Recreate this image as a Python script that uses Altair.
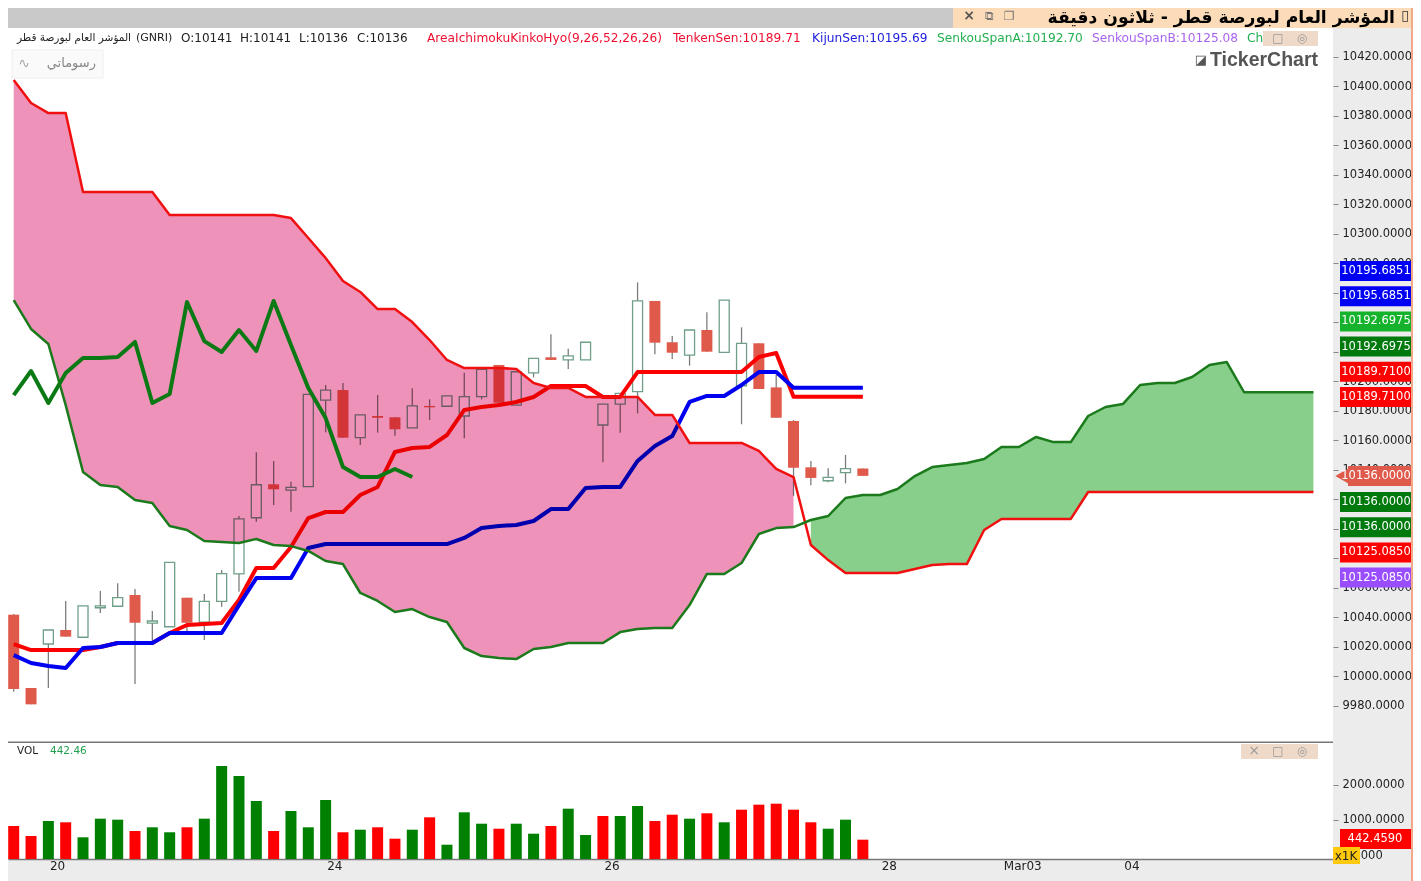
import altair as alt
import pandas as pd

# ---------- price data ----------
opens = [10041.9,9992.2,10022.0,10031.5,10026.6,10046.6,10047.6,10055.2,10036.2,10033.7,
         10053.4,10036.9,10050.9,10069.5,10107.6,10130.3,10126.4,10128.7,10187.4,10194.2,
         10161.9,10176.6,10175.7,10168.6,10183.4,10183.2,10176.6,10189.7,10211.2,10184.0,
         10205.9,10216.4,10214.6,10214.6,10170.5,10184.7,10193.1,10254.6,10226.6,10217.9,
         10234.9,10219.8,10197.1,10225.9,10196.0,10173.2,10141.8,10132.7,10138.2,10141.0]
closes = [9991.5,9981.1,10031.5,10027.0,10047.8,10047.8,10053.4,10036.4,10037.6,10077.4,
          10036.4,10050.9,10069.7,10106.9,10130.0,10126.9,10128.2,10191.3,10194.2,10161.9,
          10177.3,10175.4,10167.6,10183.4,10182.5,10190.2,10189.7,10208.2,10185.6,10206.6,
          10215.7,10214.6,10217.3,10226.6,10184.7,10192.0,10254.6,10226.3,10219.5,10234.9,
          10220.2,10255.2,10225.9,10194.9,10175.4,10141.5,10134.6,10135.0,10140.9,10136.0]
highs = [10042.3,9992.2,10031.5,10051.2,10047.8,10057.9,10063.2,10059.3,10044.4,10077.4,
         10053.4,10055.9,10072.2,10108.8,10152.0,10146.1,10132.0,10191.3,10197.6,10198.9,
         10177.3,10190.8,10175.7,10195.4,10187.9,10190.2,10206.0,10208.2,10211.2,10206.6,
         10215.7,10232.0,10222.2,10226.6,10184.7,10192.0,10267.2,10254.6,10230.8,10234.9,
         10246.9,10255.2,10236.7,10225.9,10204.4,10173.9,10146.1,10141.1,10150.2,10141.0]
lows = [9989.7,9981.1,9992.2,10027.0,10026.6,10043.0,10047.6,9994.9,10023.6,10033.7,
        10030.3,10024.7,10047.3,10057.5,10104.9,10116.2,10111.7,10128.7,10165.5,10161.9,
        10156.9,10165.3,10163.2,10168.6,10173.9,10183.2,10161.5,10187.9,10185.6,10184.0,
        10202.8,10214.6,10208.5,10214.6,10145.2,10165.3,10178.4,10218.4,10215.2,10210.7,
        10220.2,10219.8,10171.0,10194.9,10175.4,10122.5,10129.6,10131.6,10130.9,10136.0]
volumes = [830,547,972,935,510,1037,1009,688,793,652,793,1037,2530,2246,1538,688,1255,793,1567,652,
           725,793,470,725,1076,300,1218,895,753,895,612,830,1320,575,1113,1113,1397,972,1150,1037,
           1190,935,1292,1434,1462,1292,935,753,1009,442.46]
vol_up = [0,0,1,0,1,1,1,0,1,1,0,1,1,1,1,0,1,1,1,0,1,0,0,1,0,1,1,1,0,1,1,0,1,1,0,1,1,0,0,1,
          0,1,0,0,0,0,0,1,1,0]

tenkan = [10022.0,10017.9,10017.9,10017.9,10017.9,10020.0,10022.7,10022.7,10022.7,10029.5,
          10034.9,10035.6,10036.2,10051.8,10073.5,10073.5,10087.8,10107.4,10111.5,10111.5,
          10123.0,10128.5,10152.2,10154.9,10155.6,10163.7,10180.7,10182.7,10184.0,10186.1,
          10189.5,10196.9,10196.9,10196.9,10189.5,10189.5,10206.4,10206.4,10206.4,10206.4,
          10206.4,10206.4,10206.4,10216.6,10219.3,10189.71,10189.71,10189.71,10189.71,10189.71]
kijun = [10014.5,10009.1,10007.1,10005.7,10019.3,10020.0,10022.7,10022.7,10022.7,10029.5,
         10029.5,10029.5,10029.5,10048.4,10066.7,10066.7,10066.7,10087.1,10089.8,10089.8,
         10089.8,10089.8,10089.8,10089.8,10089.8,10089.8,10093.9,10100.6,10102.0,10102.7,
         10105.4,10113.5,10113.5,10127.8,10128.5,10128.5,10146.1,10156.2,10163.0,10186.1,
         10190.2,10190.2,10197.6,10206.4,10206.4,10195.69,10195.69,10195.69,10195.69,10195.69]
chikou = [10190.8,10207.1,10185.4,10205.7,10215.9,10215.9,10216.6,10226.8,10185.4,10191.5,
          10253.9,10227.4,10220.0,10234.9,10220.7,10254.6,10224.7,10195.6,10175.2,10142.0,
          10135.2,10135.2,10140.7,10135.2]
span_b = [10404.4,10388.8,10382.0,10382.0,10328.5,10328.5,10328.5,10328.5,10328.5,10312.9,
          10312.9,10312.9,10312.9,10312.9,10312.9,10312.9,10310.8,10297.3,10283.7,10268.1,
          10260.7,10249.1,10249.1,10240.3,10228.1,10214.6,10209.1,10209.1,10209.1,10208.5,
          10199.0,10195.6,10195.6,10189.5,10189.5,10189.5,10189.5,10177.3,10177.3,10158.3,
          10158.3,10158.3,10158.3,10152.9,10140.7,10135.2,10089.1,10078.9,10070.1,10070.1,
          10070.1,10070.1,10072.9,10075.6,10076.2,10076.2,10099.3,10106.8,10106.8,10106.8,
          10106.8,10106.8,10125.08,10125.08,10125.08,10125.08,10125.08,10125.08,10125.08,10125.08,
          10125.08,10125.08,10125.08,10125.08,10125.08,10125.08]
span_a = [10255.2,10235.6,10225.4,10184.0,10138.6,10129.8,10128.5,10119.6,10117.6,10102.0,
          10099.3,10091.8,10091.2,10090.5,10093.2,10089.1,10088.4,10085.1,10078.3,10076.2,
          10056.6,10051.2,10043.7,10045.7,10040.3,10036.9,10019.3,10013.8,10012.5,10011.8,
          10018.6,10020.0,10022.7,10022.7,10022.7,10030.1,10032.2,10032.9,10032.9,10048.4,
          10069.5,10069.5,10076.9,10096.6,10100.6,10101.3,10106.1,10108.8,10121.0,10123.0,
          10123.0,10127.1,10135.9,10142.0,10143.4,10144.7,10147.4,10155.6,10155.6,10162.4,
          10158.9,10158.9,10176.6,10182.7,10184.7,10197.6,10199.0,10199.0,10203.0,10211.2,
          10213.2,10192.7,10192.7,10192.7,10192.7,10192.7]

price_ticks = list(range(9980, 10421, 20))
vol_ticks = [0, 1000, 2000]
date_labels = ["20", "24", "26", "28", "Mar03", "04"]
date_positions = [2.5, 18.5, 34.5, 50.5, 58.2, 64.5]

tag_upper = [10195.6851, 10195.6851, 10192.6975, 10192.6975, 10189.71, 10189.71]
tag_lower = [10136.0, 10136.0, 10125.085, 10125.085]
tag_upper_colors = ["#0000f5", "#0000f5", "#14b32b", "#007a0d", "#ff0000", "#ff0000"]
tag_lower_colors = ["#007a0d", "#007a0d", "#ff0000", "#9a4dff"]
last_close = 10136.0
last_volume = 442.459

title_text = "المؤشر العام لبورصة قطر - ثلاثون دقيقة"
symbol_text = "المؤشر العام لبورصة قطر"
quote_texts = ["(GNRI)", "O:10141", "H:10141", "L:10136", "C:10136"]
indicator_texts = ["AreaIchimokuKinkoHyo(9,26,52,26,26)", "TenkenSen:10189.71", "KijunSen:10195.69",
                   "SenkouSpanA:10192.70", "SenkouSpanB:10125.08", "Ch"]

# ---------- layout ----------
FONT = "DejaVu Sans"
PANEL_W = 1325
HEAD_H, PRICE_H, VOL_H = 20, 715, 116
OX, OY_HEAD, OY_PRICE, OY_VOL = 8, 8, 28, 743
RIGHT = 1413  # the page leaves 1405 px for the chart

x_scale = alt.Scale(domain=[-0.329, 76.13], nice=False, zero=False, padding=0)
price_scale = alt.Scale(domain=[9954.89, 10439.66], nice=False, zero=False)
vol_scale = alt.Scale(domain=[-105, 3181], nice=False, zero=False)
x_axis = alt.Axis(labels=False, ticks=False, domain=False, title=None, grid=False)
price_axis_def = alt.Axis(
    orient="right", values=price_ticks, format=".4f", title=None, grid=False, domain=False,
    tickColor="#888", tickSize=5, labelPadding=4, labelFont=FONT, labelFontSize=11.5,
    labelColor="#222", labelOverlap=False, labelBound=False)
X = alt.X("i:Q", scale=x_scale, axis=x_axis)


def txt(s, x, y, oy, size=11, color="#222", align="left", bold=False, font=FONT):
    return alt.Chart().mark_text(text=s, fontSize=size, color=color, align=align, baseline="middle",
                                 font=font, fontWeight="bold" if bold else "normal"
                                 ).encode(x=alt.value(x - OX), y=alt.value(y - oy))


def box(x0, x1, y0, y1, oy, fill, stroke=None):
    kw = {"stroke": stroke, "strokeWidth": 1} if stroke else {}
    return alt.Chart().mark_rect(fill=fill, **kw).encode(
        x=alt.value(x0 - OX), x2=alt.value(x1 - OX), y=alt.value(y0 - oy), y2=alt.value(y1 - oy))


def frame(oy, h):
    return box(RIGHT - 2, RIGHT, oy, oy + h, oy, "#f2a98a")


# ---------- header ----------
header = alt.layer(
    box(8, 953, 8, 28, OY_HEAD, "#c9c9c9"),
    box(953, RIGHT, 8, 28, OY_HEAD, "#fcdcb8"),
    txt("×", 969, 16, OY_HEAD, size=14, color="#555", align="center", bold=True),
    txt("⧉", 989, 16, OY_HEAD, size=12, color="#777", align="center"),
    txt("❐", 1009, 16, OY_HEAD, size=12, color="#777", align="center"),
    txt(title_text, 1395, 18, OY_HEAD, size=17.2, color="#000", align="right", bold=True),
    txt("▯", 1405, 16, OY_HEAD, size=14, color="#333", align="center"),
    frame(OY_HEAD, HEAD_H),
).properties(width=RIGHT - OX, height=HEAD_H)

# ---------- price panel ----------
candles = pd.DataFrame({"i": range(len(opens)), "o": opens, "c": closes, "h": highs, "l": lows})
candles["up"] = candles.c >= candles.o
up = candles[candles.up]
down = candles[~candles.up]
Yp = lambda f: alt.Y(f"{f}:Q", scale=price_scale, axis=price_axis_def)

wicks = alt.Chart(candles).mark_rule(color="#7d7d7d", strokeWidth=1.3).encode(
    x=X, y=Yp("l"), y2="h:Q")
up_bodies = alt.Chart(up).mark_bar(size=10, fill="#ffffff", stroke="#6f9f88", strokeWidth=1.3).encode(
    x=X, y=Yp("o"), y2="c:Q")
down_bodies = alt.Chart(down).mark_bar(size=11, fill="#e05a4c").encode(x=X, y=Yp("o"), y2="c:Q")


def series(values, name):
    return pd.DataFrame({"i": range(len(values)), name: values})


tenkan_line = alt.Chart(series(tenkan, "v")).mark_line(color="#fb0000", strokeWidth=4, strokeJoin="round").encode(x=X, y=Yp("v"))
kijun_line = alt.Chart(series(kijun, "v")).mark_line(color="#0000f0", strokeWidth=4, strokeJoin="round").encode(x=X, y=Yp("v"))
chikou_line = alt.Chart(series(chikou, "v")).mark_line(color="#0c7a14", strokeWidth=4, strokeJoin="round").encode(x=X, y=Yp("v"))

spans = pd.DataFrame({"i": range(len(span_a)), "a": span_a, "b": span_b})
pink = alt.Chart(spans[spans.i <= 45]).mark_area(color="#ef92b9", blend="multiply", opacity=1).encode(
    x=X, y=Yp("a"), y2="b:Q")
green = alt.Chart(spans[spans.i >= 46]).mark_area(color="#87cf8a", opacity=1).encode(
    x=X, y=Yp("a"), y2="b:Q")
span_b_line = alt.Chart(spans).mark_line(color="#f01010", strokeWidth=2.5, strokeJoin="round").encode(x=X, y=Yp("b"))
span_a_line = alt.Chart(spans).mark_line(color="#1b7a1b", strokeWidth=2.5, strokeJoin="round").encode(x=X, y=Yp("a"))

tag_layers = []
slots = [(v, c, 271 + 25.2 * k) for k, (v, c) in enumerate(zip(tag_upper, tag_upper_colors))]
slots += [(v, c, 502 + 25.2 * k) for k, (v, c) in enumerate(zip(tag_lower, tag_lower_colors))]
for v, c, y in slots:
    tag_layers.append(box(1340, RIGHT - 2, y - 10, y + 10, OY_PRICE, c))
    tag_layers.append(txt(f"{v:.4f}", 1376, y, OY_PRICE, size=11.5, color="#fff", align="center"))
tag_layers += [
    box(1348, RIGHT - 2, 466, 486, OY_PRICE, "#e05a4c"),
    alt.Chart().mark_point(shape="triangle-left", filled=True, size=400, color="#e05a4c", opacity=1).encode(
        x=alt.value(1344 - OX), y=alt.value(476 - OY_PRICE)),
    txt(f"{last_close:.4f}", 1376, 476, OY_PRICE, size=11.5, color="#fff", align="center"),
]

indicator_colors = ["#ef1030", "#ef1030", "#2020dd", "#22b04f", "#a864ee", "#22b04f"]
indicator_x = [427, 673, 812, 937, 1092, 1247]
quote_x = [136, 181, 240, 299, 357]
quote_sizes = [11, 12, 12, 12, 12]
legend_layers = [txt(symbol_text, 131, 38, OY_PRICE, size=10.5, align="right")]
legend_layers += [txt(s, x, 38, OY_PRICE, size=z) for s, x, z in zip(quote_texts, quote_x, quote_sizes)]
legend_layers += [txt(s, x, 38, OY_PRICE, size=12.2, color=c)
                  for s, x, c in zip(indicator_texts, indicator_x, indicator_colors)]
legend_layers += [
    box(1263, 1318, 31, 46, OY_PRICE, "#efd9c8"),
    txt("□", 1278, 38, OY_PRICE, size=12, color="#999", align="center"),
    txt("◎", 1302, 38, OY_PRICE, size=12, color="#999", align="center"),
    box(12, 103, 50, 78, OY_PRICE, "#fafafa", "#eeeeee"),
    txt("∿", 24, 64, OY_PRICE, size=14, color="#aaa", align="center"),
    txt("رسوماتي", 96, 63, OY_PRICE, size=13, color="#888", align="right"),
    txt("◪", 1201, 60, OY_PRICE, size=13, color="#555", align="center"),
    txt("TickerChart", 1318, 60, OY_PRICE, size=19.5, color="#555", align="right", bold=True,
        font="Liberation Sans"),
    box(8, 1333, 741.6, 743, OY_PRICE, "#777777"),
]

price = alt.layer(
    wicks, up_bodies, down_bodies, tenkan_line, kijun_line, green, pink,
    span_b_line, span_a_line, chikou_line, *tag_layers, *legend_layers, frame(OY_PRICE, PRICE_H),
).properties(width=PANEL_W, height=PRICE_H)

# ---------- volume panel ----------
vol = pd.DataFrame({"i": range(len(volumes)), "v": volumes, "up": vol_up, "base": -105})
vol_bars = alt.Chart(vol).mark_bar(size=11).encode(
    x=alt.X("i:Q", scale=x_scale, axis=alt.Axis(
        values=date_positions, tickSize=0, domainColor="#777", domainWidth=1.4, title=None, grid=False,
        labelFont=FONT, labelFontSize=12, labelColor="#222", labelPadding=1, labelOverlap=False,
        labelFlush=False, labelBound=False,
        labelExpr=f"{date_labels}[indexof({date_positions}, datum.value)]")),
    y=alt.Y("v:Q", scale=vol_scale, axis=alt.Axis(
        orient="right", values=vol_ticks, format=".4f", title=None, grid=False, domain=False,
        tickColor="#888", tickSize=5, labelPadding=4, labelFont=FONT, labelFontSize=11.5,
        labelColor="#222", labelOverlap=False, labelBound=False)),
    y2="base:Q",
    color=alt.condition("datum.up == 1", alt.value("#008000"), alt.value("#ff0000")),
)
volume = alt.layer(
    vol_bars,
    txt("VOL", 17, 751, OY_VOL, size=10.5),
    txt(f"{volumes[-1]:.2f}", 50, 751, OY_VOL, size=10.5, color="#22a04f"),
    box(1241, 1318, 744, 759, OY_VOL, "#efd9c8"),
    txt("×", 1254, 751, OY_VOL, size=14, color="#999", align="center"),
    txt("□", 1278, 751, OY_VOL, size=12, color="#999", align="center"),
    txt("◎", 1302, 751, OY_VOL, size=12, color="#999", align="center"),
    box(1340, 1411, 829, 849, OY_VOL, "#ff0000"),
    txt(f"{last_volume:.4f}", 1375, 839, OY_VOL, size=11.5, color="#fff", align="center"),
    box(1333, 1360, 847, 864, OY_VOL, "#ffc90e"),
    txt("x1K", 1346, 856, OY_VOL, size=12, color="#222", align="center"),
    frame(OY_VOL, 138),
).properties(width=PANEL_W, height=VOL_H)

chart = alt.vconcat(header, price, volume, spacing=0, padding=0, background="#ececec").configure_view(
    fill="#ffffff", stroke=None
).configure_concat(spacing=0)

chart.save("out.html", embed_options={"renderer": "svg", "actions": False})
